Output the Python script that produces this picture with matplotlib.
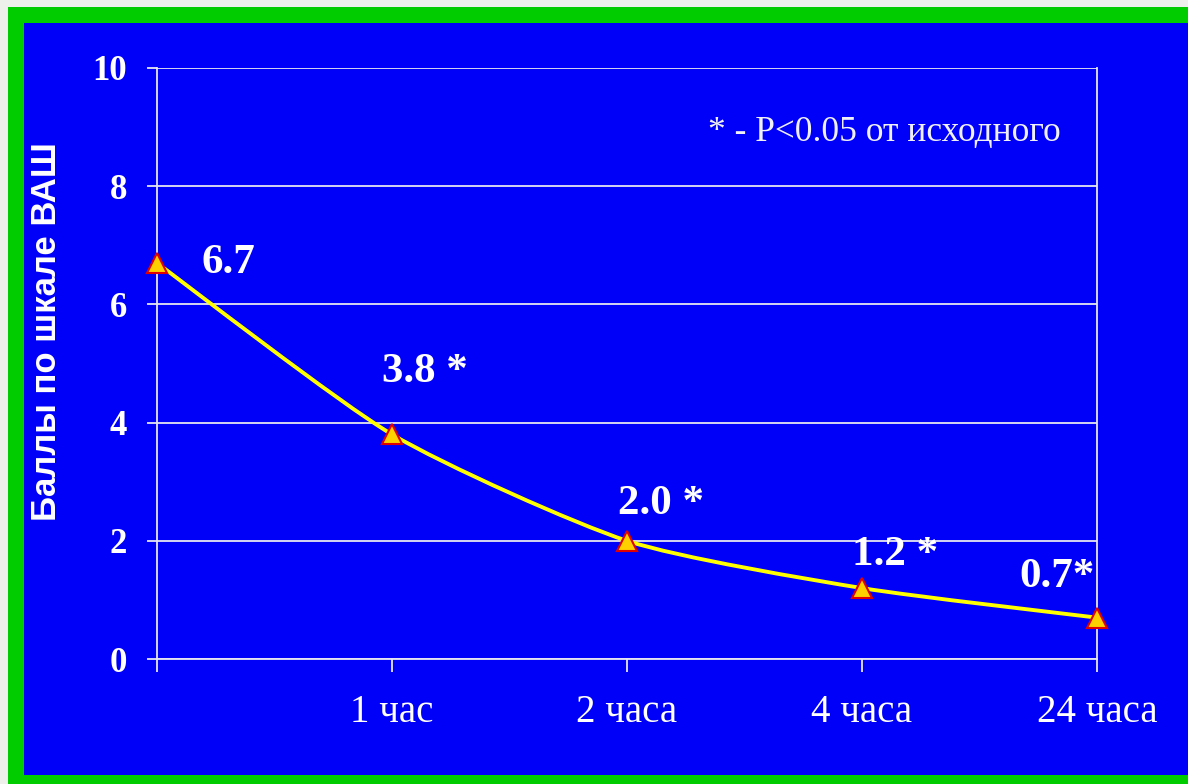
import matplotlib
matplotlib.use("Agg")
import matplotlib.pyplot as plt
import numpy as np
from matplotlib.patches import Rectangle, PathPatch
from matplotlib.path import Path

# ── data ──────────────────────────────────────────────────────────────────────
time_labels = ["", "1 час", "2 часа", "4 часа", "24 часа"]
vas_scores = [6.7, 3.8, 2.0, 1.2, 0.7]
sig_marks = ["", " *", " *", " *", "*"]
y_ticks = [0, 2, 4, 6, 8, 10]

# label offsets from each point, pixels
label_offsets = [(71, 0), (33, 62), (34, 37), (33, 33), (-40, 41)]

BLUE = "#0000F8"
GREEN = "#00CC00"
GRID = "#E6E6F2"
SERIF = "Liberation Serif"

W, H = 1188, 784
fig = plt.figure(figsize=(W / 100, H / 100), dpi=100)
fig.patch.set_facecolor("#EEF0EC")

# slide frame: green border and blue body
fig.patches.append(Rectangle((8 / W, 0), 1, 1 - 7 / H, transform=fig.transFigure,
                             facecolor=GREEN, edgecolor="none", zorder=-3))
fig.patches.append(Rectangle((24 / W, 9 / H), 1, 1 - 23 / H - 9 / H,
                             transform=fig.transFigure,
                             facecolor=BLUE, edgecolor="none", zorder=-2))

ax = fig.add_axes([157 / W, 1 - 659 / H, (1097 - 157) / W, (659 - 68) / H])
ax.set_facecolor("none")

x = np.arange(len(vas_scores))
y = np.array(vas_scores)


def smooth_path(xs, ys, t=0.11):
    """Catmull-Rom style Bezier curve through the points (like Office smoothing)."""
    pts = np.column_stack([xs, ys]).astype(float)
    verts = [pts[0]]
    codes = [Path.MOVETO]
    n = len(pts)
    for i in range(n - 1):
        p0 = pts[max(i - 1, 0)]
        p1, p2 = pts[i], pts[i + 1]
        p3 = pts[min(i + 2, n - 1)]
        c1 = p1 + (p2 - p0) * t
        c2 = p2 - (p3 - p1) * t
        verts += [c1, c2, p2]
        codes += [Path.CURVE4] * 3
    return Path(verts, codes)


ax.add_patch(PathPatch(smooth_path(x, y), facecolor="none", edgecolor="#FFFF00",
                       lw=2.8, zorder=3, clip_on=False))
ax.plot(x, y, linestyle="none", marker="^", markersize=14,
        markerfacecolor="#FFD000", markeredgecolor="#E00000",
        markeredgewidth=1.5, zorder=4, clip_on=False)

for xi, yi, mark, (dx, dy) in zip(x, y, sig_marks, label_offsets):
    ax.annotate(f"{yi:.1f}{mark}", (xi, yi), xytext=(dx, dy),
                textcoords="offset pixels", ha="center", va="center",
                fontsize=31, fontweight="bold", family=SERIF, color="white",
                zorder=5)

# axes
ax.set_xlim(0, 4)
ax.set_ylim(0, 10)
ax.set_yticks(y_ticks)
ax.set_yticklabels([str(v) for v in y_ticks])
ax.set_xticks(x)
ax.set_xticklabels(time_labels)
ax.grid(axis="y", color=GRID, lw=1.3, zorder=1)
ax.grid(axis="x", visible=False)
ax.set_axisbelow(True)

for side in ["left", "right", "bottom"]:
    ax.spines[side].set_color(GRID)
    ax.spines[side].set_linewidth(1.3)
ax.spines["top"].set_visible(False)

ax.tick_params(axis="y", direction="out", length=7.5, width=1.3, color=GRID,
               pad=14, labelcolor="white", labelsize=25)
ax.tick_params(axis="x", direction="out", length=9.5, width=1.3, color=GRID,
               pad=16, labelcolor="white", labelsize=28)
for lab in ax.get_yticklabels():
    lab.set_family(SERIF)
    lab.set_fontweight("bold")
for lab in ax.get_xticklabels():
    lab.set_family(SERIF)

fig.text(47 / W, 1 - 332 / H, "Баллы по шкале ВАШ", rotation=90,
         ha="center", va="center", fontsize=25, fontweight="bold",
         family="Liberation Sans", color="white")

fig.text(708 / W, 1 - 133 / H, "* - P<0.05 от исходного", ha="left",
         va="center", fontsize=25.5, family=SERIF, color="#F0F0F8")

fig.savefig("out.png", dpi=100, facecolor=fig.get_facecolor())
